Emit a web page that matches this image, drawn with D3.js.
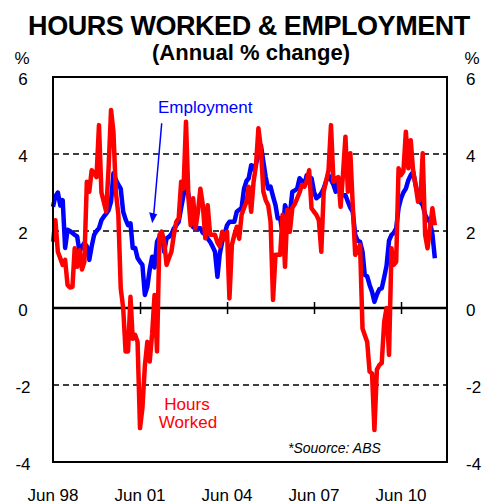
<!DOCTYPE html>
<html>
<head>
<meta charset="utf-8">
<script src="https://cdn.jsdelivr.net/npm/d3@7"></script>
<style>
  body { margin: 0; background: #fff; }
  text { font-family: "Liberation Sans", Arial, sans-serif; }
</style>
</head>
<body>
<div id="chart"></div>
<script>
// monthly, Jun 1998 .. Aug 2011
const startMonth = new Date(1998, 5, 1);

const employment = [
  2.63, 2.9, 3.0, 2.66, 2.8, 1.56, 2.03, 2.0, 1.95, 1.9,
  1.86, 1.46, 1.6, 1.69, 1.6, 1.25, 1.6, 1.9, 2.0, 2.07,
  2.28, 2.37, 2.45, 2.54, 2.76, 3.5, 3.33, 3.2, 3.1, 2.5,
  2.3, 2.15, 2.2, 1.56, 1.56, 1.3, 1.2, 1.12, 0.34, 0.55,
  1.0, 1.33, 1.05, 1.72, 1.85, 1.98, 1.46, 1.81, 1.85, 1.92,
  2.07, 2.15, 2.24, 2.6, 2.93, 3.28, 2.93, 2.5, 2.1, 2.07,
  2.07, 2.07, 1.95, 1.92, 1.8, 1.72, 1.6, 1.46, 0.81, 1.4,
  1.72, 1.92, 2.15, 2.24, 2.24, 2.24, 2.5, 2.55, 2.6, 3.1,
  3.3, 3.37, 3.71, 3.6, 3.75, 3.97, 4.23, 3.8, 3.4, 3.1,
  3.15, 2.9, 2.67, 2.33, 2.33, 1.94, 2.67, 2.5, 2.42, 3.02,
  3.05, 3.1, 3.37, 3.3, 3.2, 3.45, 3.4, 3.37, 3.02, 2.85,
  2.9, 2.98, 3.1, 3.3, 3.45, 3.33, 3.2, 3.02, 3.37, 2.93,
  2.93, 2.93, 2.76, 2.6, 2.5, 1.9, 1.75, 1.72, 1.46, 0.86,
  0.82, 0.6, 0.42, 0.16, 0.35, 0.49, 0.51, 0.8, 1.1, 1.75,
  1.9, 1.95, 2.07, 2.59, 2.85, 3.0, 3.1, 3.32, 3.45, 3.54,
  3.2, 2.93, 2.75, 2.67, 2.42, 2.3, 2.24, 1.92, 1.29
];

const hoursWorked = [
  1.72, 2.28, 1.46, 1.29, 1.12, 1.25, 0.6, 0.53, 0.55, 1.55,
  1.07, 1.5, 1.0, 1.2, 3.28, 3.02, 3.58, 3.5, 3.4, 4.75,
  3.0, 2.76, 2.5, 3.63, 5.14, 4.58, 3.0, 2.42, 0.51, 0,
  -1.13, -1.13, 0.29, -0.8, -0.7, -0.88, -3.12, -2.6, -1.5, -0.88,
  -1.39, -0.66, 0.34, -1.13, 1.9, 1.98, 1.72, 1.12, 1.3, 1.46,
  1.9, 2.24, 2.33, 3.28, 3.1, 4.84, 2.85, 2.15, 2.85, 2.07,
  2.5, 3.1, 2.67, 1.81, 2.67, 1.9, 1.9, 1.9, 1.7, 1.6,
  1.98, 1.8, 1.98, 0.25, 1.64, 1.9, 2.11, 1.8, 2.42, 2.6,
  2.76, 3.15, 2.5, 3.28, 3.71, 4.67, 4.15, 3.02, 2.8, 2.67,
  2.24, 0.21, 1.38, 1.38, 1.38, 2.42, 1.07, 2.55, 1.98, 2.6,
  2.7, 2.85, 3.0, 3.2, 3.15, 3.3, 3.58, 2.59, 2.5, 2.42,
  2.28, 1.46, 3.02, 3.3, 3.58, 4.75, 3.28, 3.35, 3.4, 2.63,
  3.5, 4.45, 3.02, 4.02, 2.67, 1.38, 1.5, 1.64, -0.53, -0.7,
  -0.88, -1.65, -1.7, -3.17, -1.6, -1.48, -1.43, -0.36, 0, -1.22,
  1.55, 1.12, 1.2, 3.63, 3.45, 3.55, 4.58, 3.63, 4.36, 3.55,
  3.2, 2.76, 2.85, 4.02, 1.9, 1.55, 2.07, 2.59, 2.15
];

const yTicks = [6, 4, 2, 0, -2, -4];
const xTickYears = [1998, 2001, 2004, 2007, 2010];
const xTickLabels = ['Jun 98', 'Jun 01', 'Jun 04', 'Jun 07', 'Jun 10'];

const months = employment.map((d, i) => d3.timeMonth.offset(startMonth, i));

const width = 496, height = 504;
const margin = { top: 77, right: 49, bottom: 42, left: 53 };

const svg = d3.select('#chart').append('svg')
  .attr('width', width)
  .attr('height', height);

const x = d3.scaleTime()
  .domain([new Date(1998, 5, 1), new Date(2012, 0, 1)])
  .range([margin.left, width - margin.right]);

const y = d3.scaleLinear()
  .domain([-4, 6])
  .range([height - margin.bottom, margin.top]);

// titles
svg.append('text')
  .attr('x', 249).attr('y', 35)
  .attr('text-anchor', 'middle')
  .attr('font-size', 27).attr('font-weight', 'bold')
  .attr('letter-spacing', -0.45)
  .text('HOURS WORKED & EMPLOYMENT');

svg.append('text')
  .attr('x', 251).attr('y', 60)
  .attr('text-anchor', 'middle')
  .attr('font-size', 22).attr('font-weight', 'bold')
  .text('(Annual % change)');

// % units
svg.append('text').attr('x', 22).attr('y', 64)
  .attr('text-anchor', 'middle').attr('font-size', 17).text('%');
svg.append('text').attr('x', 472).attr('y', 64)
  .attr('text-anchor', 'middle').attr('font-size', 17).text('%');

// gridlines
svg.append('g')
  .selectAll('line')
  .data(yTicks.filter(v => v !== 0 && v !== 6 && v !== -4))
  .join('line')
  .attr('x1', x.range()[0]).attr('x2', x.range()[1])
  .attr('y1', d => y(d)).attr('y2', d => y(d))
  .attr('stroke', '#000')
  .attr('stroke-width', 1.5)
  .attr('stroke-dasharray', '6,4');

// y labels both sides
const yl = svg.append('g').attr('font-size', 17);
yl.selectAll('text.left')
  .data(yTicks)
  .join('text')
  .attr('class', 'left')
  .attr('x', 23).attr('y', d => y(d) + 8)
  .attr('text-anchor', 'middle')
  .text(d => d);
yl.selectAll('text.right')
  .data(yTicks)
  .join('text')
  .attr('class', 'right')
  .attr('x', 466).attr('y', d => y(d) + 8)
  .attr('text-anchor', 'start')
  .text(d => d);

// zero axis with ticks
const xAxis = d3.axisBottom(x)
  .tickValues(xTickYears.map(yr => new Date(yr, 5, 1)))
  .tickSize(0)
  .tickFormat('');
const axisG = svg.append('g')
  .attr('transform', `translate(0,${y(0)})`)
  .call(xAxis);
axisG.select('.domain').remove();
axisG.append('line')
  .attr('x1', x.range()[0]).attr('x2', x.range()[1])
  .attr('stroke', '#000').attr('stroke-width', 2.5);
axisG.selectAll('.tick').filter((d, i) => i > 0)
  .append('line')
  .attr('y1', -6).attr('y2', 6)
  .attr('stroke', '#000').attr('stroke-width', 1.5);

// x labels at bottom
svg.append('g')
  .selectAll('text')
  .data(xTickYears)
  .join('text')
  .attr('x', d => x(new Date(d, 5, 1)))
  .attr('y', 501)
  .attr('text-anchor', 'middle')
  .attr('font-size', 17)
  .text((d, i) => xTickLabels[i]);

// lines
const line = d3.line()
  .x((d, i) => x(months[i]))
  .y(d => y(d));

svg.append('path')
  .datum(employment)
  .attr('fill', 'none')
  .attr('stroke', '#0000ff')
  .attr('stroke-width', 4.5)
  .attr('stroke-linejoin', 'round')
  .attr('d', line);

svg.append('path')
  .datum(hoursWorked)
  .attr('fill', 'none')
  .attr('stroke', '#ff0000')
  .attr('stroke-width', 4.5)
  .attr('stroke-linejoin', 'round')
  .attr('d', line);

// frame
svg.append('rect')
  .attr('x', x.range()[0]).attr('y', y(6))
  .attr('width', x.range()[1] - x.range()[0])
  .attr('height', y(-4) - y(6))
  .attr('fill', 'none')
  .attr('stroke', '#000')
  .attr('stroke-width', 2);

// annotations
svg.append('text')
  .attr('x', 158).attr('y', 113)
  .attr('font-size', 17).attr('fill', '#0000ff')
  .text('Employment');

const ax1 = x(new Date(2002, 2, 1)), ay1 = y(4.8);
const ax2 = x(new Date(2001, 10, 1)), ay2 = y(2.2);
svg.append('line')
  .attr('x1', ax1).attr('y1', ay1)
  .attr('x2', ax2 + 1.5).attr('y2', ay2 - 8)
  .attr('stroke', '#0000ff').attr('stroke-width', 1.5);
svg.append('path')
  .attr('d', `M${ax2},${ay2} L${ax2 - 3},${ay2 - 11} L${ax2 + 5},${ay2 - 9} Z`)
  .attr('fill', '#0000ff');

svg.append('text')
  .attr('x', 187).attr('y', 410)
  .attr('text-anchor', 'middle')
  .attr('font-size', 17).attr('fill', '#ff0000')
  .text('Hours');
svg.append('text')
  .attr('x', 188).attr('y', 428)
  .attr('text-anchor', 'middle')
  .attr('font-size', 17).attr('fill', '#ff0000')
  .text('Worked');

svg.append('text')
  .attr('x', 288).attr('y', 453)
  .attr('font-size', 14).attr('font-style', 'italic')
  .text('*Souorce: ABS');
</script>
</body>
</html>
